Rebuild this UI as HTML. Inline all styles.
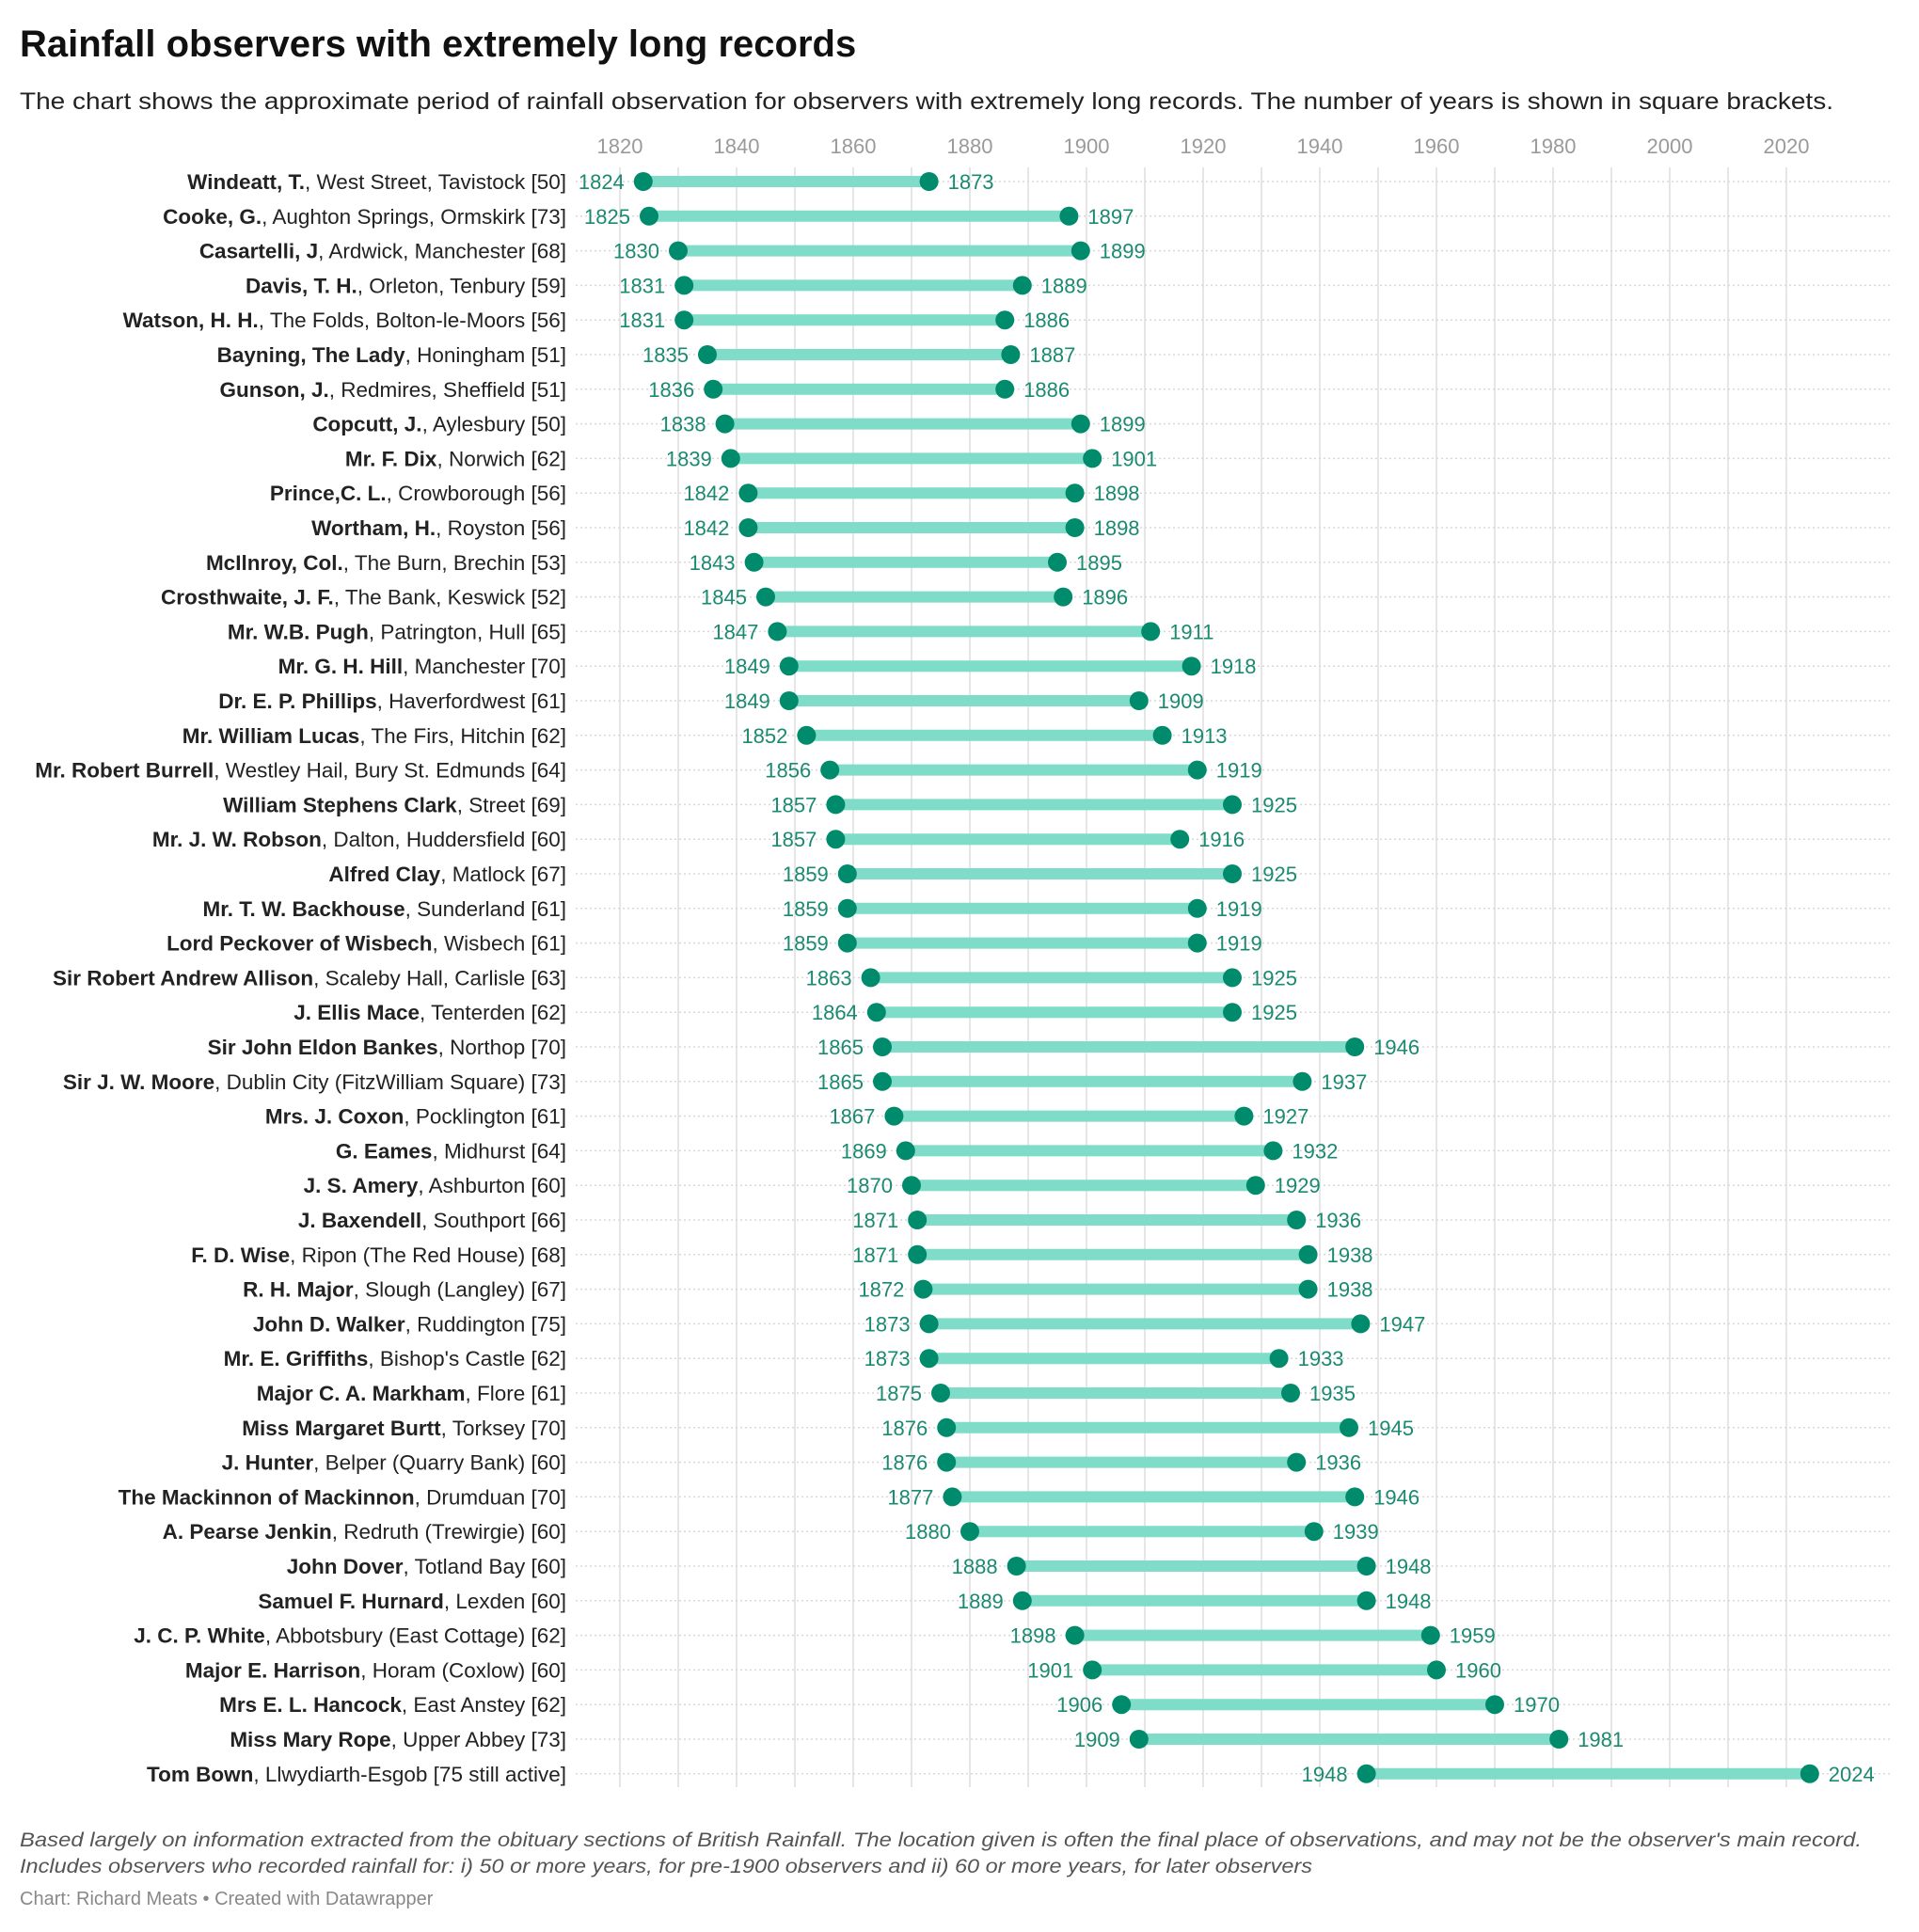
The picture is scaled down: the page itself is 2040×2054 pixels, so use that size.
<!DOCTYPE html>
<html><head><meta charset="utf-8"><style>
body{margin:0;background:#fff;}
svg{display:block;font-family:"Liberation Sans",Arial,sans-serif;}
</style></head><body>
<svg id="chart" width="2040" height="2054" viewBox="0 0 2040 2054">
<text x="21" y="60" font-size="40" font-weight="bold" fill="#111">Rainfall observers with extremely long records</text>
<text x="21" y="116" font-size="25" fill="#222" textLength="1928" lengthAdjust="spacingAndGlyphs">The chart shows the approximate period of rainfall observation for observers with extremely long records. The number of years is shown in square brackets.</text>
<g id="grid"></g>
<g id="rows"></g>
<text x="21" y="1963" font-size="21" font-style="italic" fill="#555" textLength="1958" lengthAdjust="spacingAndGlyphs">Based largely on information extracted from the obituary sections of British Rainfall. The location given is often the final place of observations, and may not be the observer's main record.</text>
<text x="21" y="1991" font-size="21" font-style="italic" fill="#555" textLength="1374" lengthAdjust="spacingAndGlyphs">Includes observers who recorded rainfall for: i) 50 or more years, for pre-1900 observers and ii) 60 or more years, for later observers</text>
<text x="21" y="2025" font-size="20" fill="#888">Chart: Richard Meats • Created with Datawrapper</text>
</svg>
<script>
const names=["Windeatt, T.","Cooke, G.","Casartelli, J","Davis, T. H.","Watson, H. H.","Bayning, The Lady","Gunson, J.","Copcutt, J.","Mr. F. Dix","Prince,C. L.","Wortham, H.","McIlnroy, Col.","Crosthwaite, J. F.","Mr. W.B. Pugh","Mr. G. H. Hill","Dr. E. P. Phillips","Mr. William Lucas","Mr. Robert Burrell","William Stephens Clark","Mr. J. W. Robson","Alfred Clay","Mr. T. W. Backhouse","Lord Peckover of Wisbech","Sir Robert Andrew Allison","J. Ellis Mace","Sir John Eldon Bankes","Sir J. W. Moore","Mrs. J. Coxon","G. Eames","J. S. Amery","J. Baxendell","F. D. Wise","R. H. Major","John D. Walker","Mr. E. Griffiths","Major C. A. Markham","Miss Margaret Burtt","J. Hunter","The Mackinnon of Mackinnon","A. Pearse Jenkin","John Dover","Samuel F. Hurnard","J. C. P. White","Major E. Harrison","Mrs E. L. Hancock","Miss Mary Rope","Tom Bown"];
const places=[", West Street, Tavistock [50]",", Aughton Springs, Ormskirk [73]",", Ardwick, Manchester [68]",", Orleton, Tenbury [59]",", The Folds, Bolton-le-Moors [56]",", Honingham [51]",", Redmires, Sheffield [51]",", Aylesbury [50]",", Norwich [62]",", Crowborough [56]",", Royston [56]",", The Burn, Brechin [53]",", The Bank, Keswick [52]",", Patrington, Hull [65]",", Manchester [70]",", Haverfordwest [61]",", The Firs, Hitchin [62]",", Westley Hail, Bury St. Edmunds [64]",", Street [69]",", Dalton, Huddersfield [60]",", Matlock [67]",", Sunderland [61]",", Wisbech [61]",", Scaleby Hall, Carlisle [63]",", Tenterden [62]",", Northop [70]",", Dublin City (FitzWilliam Square) [73]",", Pocklington [61]",", Midhurst [64]",", Ashburton [60]",", Southport [66]",", Ripon (The Red House) [68]",", Slough (Langley) [67]",", Ruddington [75]",", Bishop's Castle [62]",", Flore [61]",", Torksey [70]",", Belper (Quarry Bank) [60]",", Drumduan [70]",", Redruth (Trewirgie) [60]",", Totland Bay [60]",", Lexden [60]",", Abbotsbury (East Cottage) [62]",", Horam (Coxlow) [60]",", East Anstey [62]",", Upper Abbey [73]",", Llwydiarth-Esgob [75 still active]"];
const startYears=[1824,1825,1830,1831,1831,1835,1836,1838,1839,1842,1842,1843,1845,1847,1849,1849,1852,1856,1857,1857,1859,1859,1859,1863,1864,1865,1865,1867,1869,1870,1871,1871,1872,1873,1873,1875,1876,1876,1877,1880,1888,1889,1898,1901,1906,1909,1948];
const endYears=[1873,1897,1899,1889,1886,1887,1886,1899,1901,1898,1898,1895,1896,1911,1918,1909,1913,1919,1925,1916,1925,1919,1919,1925,1925,1946,1937,1927,1932,1929,1936,1938,1938,1947,1933,1935,1945,1936,1946,1939,1948,1948,1959,1960,1970,1981,2024];
const ticks=[1820,1840,1860,1880,1900,1920,1940,1960,1980,2000,2020];
const NS="http://www.w3.org/2000/svg";
const x=y=>659+(y-1820)*6.2;
const rowY=i=>193+i*36.8;
function mk(tag,attrs,parent){const e=document.createElementNS(NS,tag);for(const k in attrs)e.setAttribute(k,attrs[k]);parent.appendChild(e);return e;}
const grid=document.getElementById('grid'),rows=document.getElementById('rows');
for(let yr=1820;yr<=2020;yr+=10){
  const l=mk('line',{x1:x(yr),x2:x(yr),y1:178,y2:1900,stroke:'#e6e6e6','stroke-width':2},grid);
  
  
}
ticks.forEach(t=>{
  const tx=mk('text',{x:x(t),y:163,'font-size':22,fill:'#9a9a9a','text-anchor':'middle'},grid);
  tx.textContent=t;
  
  
});
names.forEach((n,i)=>{
  const y=rowY(i);
  const g=mk('g',{},rows);
  
  
  mk('line',{x1:612,x2:2010,y1:y,y2:y,stroke:'#d8d8d8','stroke-width':1.5,'stroke-dasharray':'2 3'},g);
  const lab=mk('text',{x:602,y:y+8,'font-size':22.5,fill:'#222','text-anchor':'end'},g);
  
  
  const b=mk('tspan',{'font-weight':'bold'},lab);b.textContent=n;
  const p=mk('tspan',{},lab);p.textContent=places[i];
  const bar=mk('line',{x1:x(startYears[i]),x2:x(endYears[i]),y1:y,y2:y,stroke:'#7fdcc8','stroke-width':12},g);
  
  
  [startYears[i],endYears[i]].forEach((v,k)=>{
    const c=mk('circle',{cx:x(v),cy:y,r:10,fill:'#008c6c'},g);
    
    
    const t=mk('text',{x:k?x(v)+20:x(v)-20,y:y+8,'font-size':22,fill:'#1a8a70','text-anchor':k?'start':'end'},g);
    t.textContent=v;
    
    
  });
});
</script>
</body></html>
